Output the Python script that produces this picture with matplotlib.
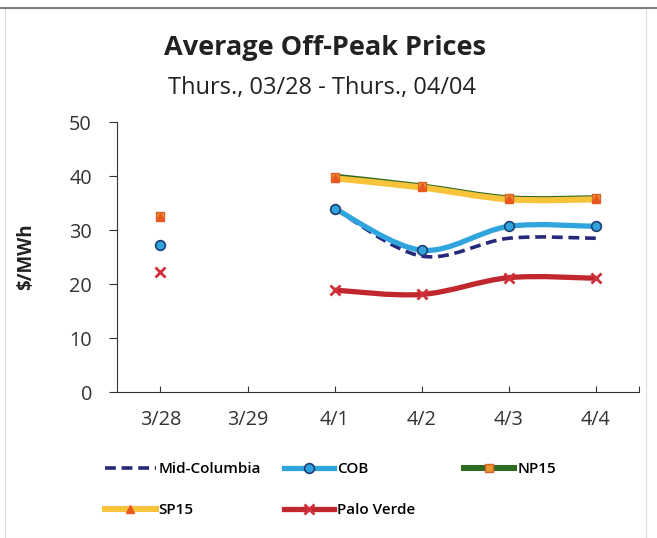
import matplotlib.pyplot as plt
import numpy as np
from matplotlib.lines import Line2D
from matplotlib.patches import PathPatch, Rectangle
from matplotlib.path import Path

plt.rcParams["font.family"] = ["Open Sans", "DejaVu Sans"]

dates = ["3/28", "3/29", "4/1", "4/2", "4/3", "4/4"]
midColumbia = [np.nan, np.nan, 34.0, 25.2, 28.5, 28.5]
cob = [27.2, np.nan, 34.0, 26.3, 30.7, 30.7]
np15 = [32.6, np.nan, 39.9, 38.1, 35.9, 35.9]
sp15 = [32.4, np.nan, 39.6, 37.9, 35.7, 35.7]
paloVerde = [22.2, np.nan, 18.9, 18.1, 21.2, 21.1]


def smoothPath(xs, ys):
    # Excel-like smoothed line: cubic Bezier through the points of each run
    verts, codes = [], []
    xs = np.asarray(xs, float)
    ys = np.asarray(ys, float)
    ok = ~np.isnan(ys)
    runs, cur = [], []
    for i in range(len(ys)):
        if ok[i]:
            cur.append(i)
        elif cur:
            runs.append(cur)
            cur = []
    if cur:
        runs.append(cur)
    for run in runs:
        if len(run) < 2:
            continue
        px, py = xs[run], ys[run]
        n = len(px)
        verts.append((px[0], py[0]))
        codes.append(Path.MOVETO)
        for k in range(n - 1):
            k0 = max(k - 1, 0)
            k3 = min(k + 2, n - 1)
            c1 = (px[k] + (px[k + 1] - px[k0]) / 6, py[k] + (py[k + 1] - py[k0]) / 6)
            c2 = (px[k + 1] - (px[k3] - px[k]) / 6, py[k + 1] - (py[k3] - py[k]) / 6)
            verts += [c1, c2, (px[k + 1], py[k + 1])]
            codes += [Path.CURVE4] * 3
    return Path(verts, codes)


fig = plt.figure(figsize=(6.57, 5.38), dpi=100)
ax = fig.add_axes([0.178, 0.271, 0.795, 0.502])
x = np.arange(len(dates))

seriesStyles = [
    ("Mid-Columbia", midColumbia, dict(color="#26287A", lw=2.6, ls=(0, (3.0, 1.6))), None),
    ("NP15", np15, dict(color="#2F6A22", lw=4.4), dict(marker="s", ms=6, mfc="#E8962E", mec="#D9602A")),
    ("SP15", sp15, dict(color="#F6C33A", lw=4.4), dict(marker="^", ms=6, mfc="#E8581E", mec="#E8581E")),
    ("COB", cob, dict(color="#2FA4DD", lw=3.8), dict(marker="o", ms=7, mfc="#2FA4DD", mec="#1F3E73", mew=1.2)),
    ("Palo Verde", paloVerde, dict(color="#C0282E", lw=3.8), dict(marker="x", ms=7, mec="#D0303A", mew=2)),
]

handles = {}
for name, vals, lineStyle, markerStyle in seriesStyles:
    patch = PathPatch(smoothPath(x, vals), fill=False, edgecolor=lineStyle["color"],
                      linewidth=lineStyle["lw"], linestyle=lineStyle.get("ls", "-"),
                      capstyle="butt", joinstyle="round")
    ax.add_patch(patch)
    if markerStyle:
        ax.plot(x, vals, ls="none", **markerStyle)
    handles[name] = Line2D([], [], color=lineStyle["color"], lw=lineStyle["lw"],
                           ls=lineStyle.get("ls", "-"), **(markerStyle or {}))

ax.set_xlim(-0.5, len(dates) - 0.5)
ax.set_ylim(0, 50)
ax.set_yticks([0, 10, 20, 30, 40, 50])
ax.set_xticks(list(x) + [len(dates) - 0.5])
ax.set_xticklabels(dates + [""])
ax.tick_params(axis="x", direction="in", length=4, width=0.8, pad=13, labelsize=14.3, colors="#333333")
ax.tick_params(axis="y", direction="out", length=6, width=0.8, pad=12, labelsize=14.3, colors="#333333")
for side in ["top", "right"]:
    ax.spines[side].set_visible(False)
ax.spines["left"].set_color("#333333")
ax.spines["bottom"].set_color("#333333")
ax.set_ylabel("$/MWh", fontsize=13.5, fontweight="bold", labelpad=24, color="#222222")

fig.text(0.495, 0.910, "Average Off-Peak Prices", ha="center", va="center",
         fontsize=19.5, fontweight="bold", color="#222222")
fig.text(0.490, 0.836, "Thurs., 03/28 - Thurs., 04/04", ha="center", va="center",
         fontsize=17, color="#222222")

legendCols = [(["Mid-Columbia", "SP15"], 0.160), (["COB", "Palo Verde"], 0.432), (["NP15"], 0.706)]
for names, xPos in legendCols:
    fig.legend([handles[n] for n in names], names, loc="upper left",
               bbox_to_anchor=(xPos, 0.141), bbox_transform=fig.transFigure,
               frameon=False, handlelength=3.3, handletextpad=0.2,
               labelspacing=1.75, borderpad=0, borderaxespad=0,
               prop=dict(size=11, weight="semibold"))

fig.add_artist(Rectangle((0.008, 0.0), 0.975, 0.985, transform=fig.transFigure,
                         fill=False, edgecolor="#DDDDDD", lw=0.8))
fig.add_artist(Line2D([0, 1], [0.985, 0.985], transform=fig.transFigure, color="#666666", lw=1.2))

fig.savefig("out.png", dpi=100)
